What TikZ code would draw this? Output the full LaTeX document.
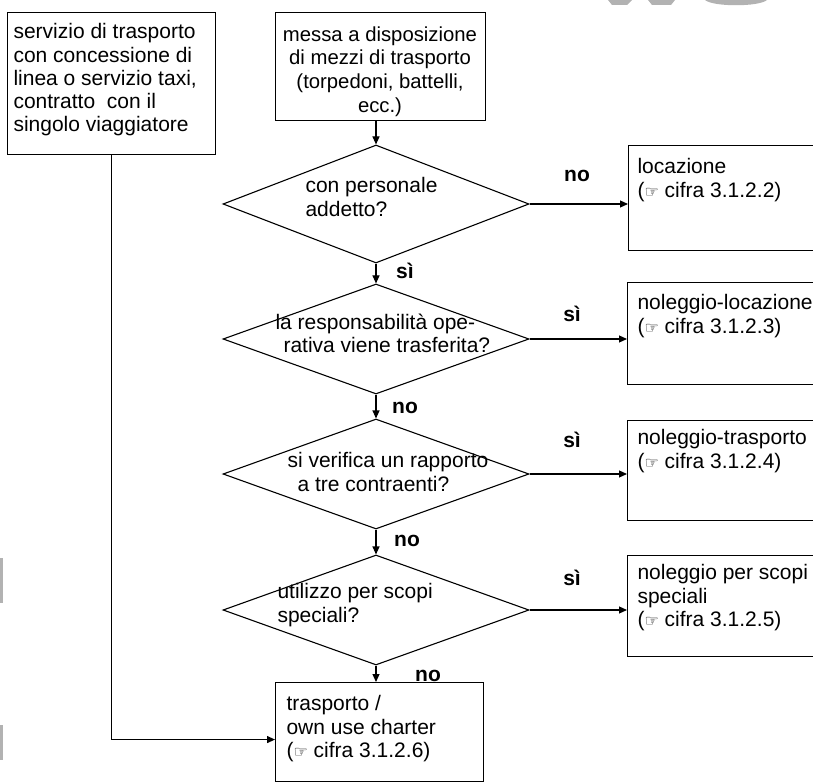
\documentclass[tikz,border=0pt]{standalone}
\usepackage{fontspec}
\setmainfont{Liberation Sans}
\newfontfamily\handfont{DejaVu Sans}
\usetikzlibrary{shapes.geometric,arrows.meta}

\newcommand{\manicule}{{\handfont\fontsize{16}{16}\selectfont ☞}}

\tikzset{
  box/.style={draw, rectangle, anchor=north west, inner sep=0pt},
  txt/.style={anchor=north west, align=left, inner sep=0pt,
    font=\fontsize{21}{23.3}\selectfont},
  ask/.style={draw, diamond, inner sep=0pt, minimum width=306pt},
  lbl/.style={inner sep=0pt, font=\fontsize{21}{23.3}\selectfont\bfseries},
  flow/.style={-{Triangle[length=8pt,width=7pt]}}
}

\begin{document}
\begin{tikzpicture}[x=1pt,y=-1pt,line width=1.1pt]
\clip (0,0) rectangle (813,783);

% faint marks at the edges
\fill[gray!60] (608,0) -- (632,0) -- (627,5) -- (612,5) -- cycle;
\fill[gray!60] (648,0) -- (675,0) -- (671,5) -- (652,5) -- cycle;
\fill[gray!60] (705,0) .. controls (713,7) and (759,7) .. (767,0) -- cycle;
\fill[gray!60] (0,558) rectangle (2.5,603);
\fill[gray!60] (0,725) rectangle (2.5,760);

% starting boxes
\node[box, minimum width=208pt, minimum height=142pt] (svc) at (7,12) {};
\node[txt] (svctxt) at (13,23) {servizio di trasporto\\con concessione di\\linea o servizio taxi,\\contratto\ \ con il\\singolo viaggiatore};

\node[box, minimum width=210pt, minimum height=108pt] (mezzi) at (275,12) {};
\node[txt, anchor=north, align=center, font=\fontsize{20.3}{23.6}\selectfont] (mezzitxt) at (380,26) {messa a disposizione\\di mezzi di trasporto\\(torpedoni, battelli,\\ecc.)};

% questions
\node[ask, minimum height=118pt] (q1) at (376,204) {};
\node[txt] (q1txt) at (305,177) {con personale\\addetto?};

\node[ask, minimum height=110pt] (q2) at (376,339) {};
\node[txt] (q2txt) at (275,313) {la responsabilità ope-\\\hspace*{8pt}rativa viene trasferita?};

\node[ask, minimum height=110pt] (q3) at (376,474) {};
\node[txt] (q3txt) at (287,452) {si verifica un rapporto\\\hspace*{10pt}a tre contraenti?};

\node[ask, minimum height=110pt] (q4) at (376,610) {};
\node[txt] (q4txt) at (277,583) {utilizzo per scopi\\speciali?};

% outcomes
\node[box, minimum width=200pt, minimum height=105pt] (loc) at (628,145) {};
\node[txt] (loctxt) at (637,158) {locazione\\(\manicule{} cifra 3.1.2.2)};

\node[box, minimum width=200pt, minimum height=102pt] (nloc) at (627,282) {};
\node[txt] (nloctxt) at (637,294) {noleggio-locazione\\(\manicule{} cifra 3.1.2.3)};

\node[box, minimum width=200pt, minimum height=100pt] (ntra) at (627,420) {};
\node[txt] (ntratxt) at (637,429) {noleggio-trasporto\\(\manicule{} cifra 3.1.2.4)};

\node[box, minimum width=200pt, minimum height=101pt] (nspe) at (627,555) {};
\node[txt] (nspetxt) at (637,564) {noleggio per scopi\\speciali\\(\manicule{} cifra 3.1.2.5)};

\node[box, minimum width=208pt, minimum height=99pt] (fin) at (275,682) {};
\node[txt] (fintxt) at (286,695) {trasporto /\\own use charter\\(\manicule{} cifra 3.1.2.6)};

% connectors
\draw[flow] (q1.north |- mezzi.south) -- (q1.north);
\draw[flow] (q1.south) -- (q2.north);
\draw[flow] (q2.south) -- (q3.north);
\draw[flow] (q3.south) -- (q4.north);
\draw[flow] (q4.south) -- (q4.south |- fin.north);

\draw[flow] (q1.east) -- (q1.east -| loc.west);
\draw[flow] (q2.east) -- (q2.east -| nloc.west);
\draw[flow] (q3.east) -- (q3.east -| ntra.west);
\draw[flow] (q4.east) -- (q4.east -| nspe.west);

\draw[flow] (svc.south) |- ([yshift=-7.5pt]fin.west);

% answers
\node[lbl] (no1) at (577,176) {no};
\node[lbl] (si1) at (405,271) {sì};
\node[lbl] (si2) at (572,314) {sì};
\node[lbl] (no2) at (405,408) {no};
\node[lbl] (si3) at (572,440) {sì};
\node[lbl] (no3) at (407,541) {no};
\node[lbl] (si4) at (572,578) {sì};
\node[lbl] (no4) at (428,676) {no};

\end{tikzpicture}
\end{document}
